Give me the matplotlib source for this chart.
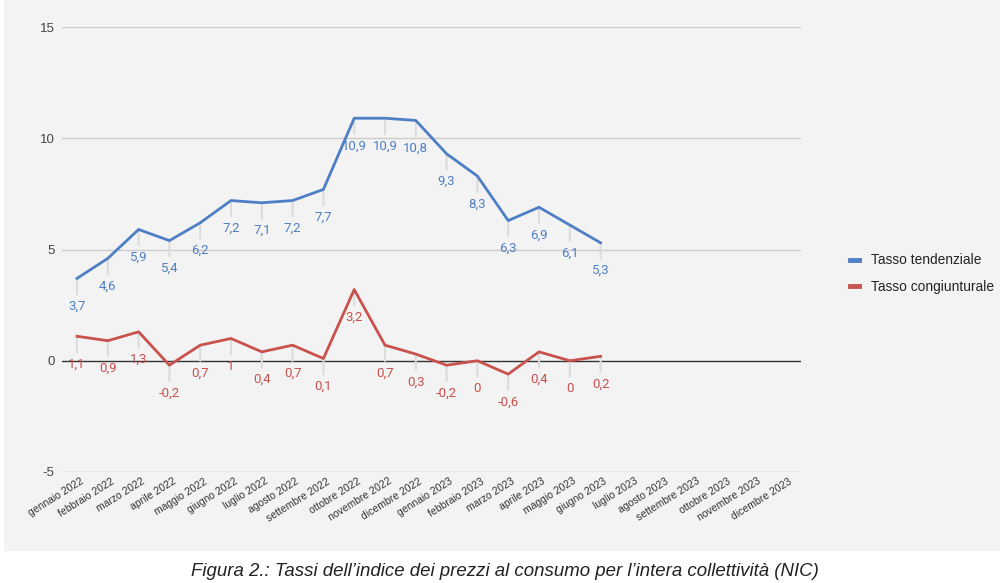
import matplotlib.pyplot as plt
from matplotlib.patches import Rectangle
from matplotlib.transforms import ScaledTranslation

plt.rcParams['axes.unicode_minus'] = False

# mesi sull'asse x
mesi = ['gennaio', 'febbraio', 'marzo', 'aprile', 'maggio', 'giugno',
        'luglio', 'agosto', 'settembre', 'ottobre', 'novembre', 'dicembre']
etichette = [m + ' 2022' for m in mesi] + [m + ' 2023' for m in mesi]

# valori (gen 2022 - giu 2023)
tendenziale = [3.7, 4.6, 5.9, 5.4, 6.2, 7.2, 7.1, 7.2, 7.7, 10.9, 10.9, 10.8,
               9.3, 8.3, 6.3, 6.9, 6.1, 5.3]
congiunturale = [1.1, 0.9, 1.3, -0.2, 0.7, 1, 0.4, 0.7, 0.1, 3.2, 0.7, 0.3,
                 -0.2, 0, -0.6, 0.4, 0, 0.2]

blu = '#4e7fc6'
rosso = '#c9514e'


def fmt(v):
    # numeri all'italiana: virgola come separatore decimale
    if v == int(v):
        return str(int(v))
    return ('%.1f' % v).replace('.', ',')


fig = plt.figure(figsize=(10, 5.83), dpi=100)
fig.patches.append(Rectangle((0.004, 1 - 550 / 583), 0.996, 550 / 583,
                             transform=fig.transFigure, color='#f3f3f3', zorder=0))

ax = fig.add_axes([0.0616, 1 - 472 / 583, 0.7392, 445 / 583])
ax.set_zorder(2)
ax.set_facecolor('none')
ax.set_xlim(-0.5, len(etichette) - 0.5)
ax.set_ylim(-5, 15)
for s in ax.spines.values():
    s.set_visible(False)

ax.set_yticks([-5, 0, 5, 10, 15])
ax.tick_params(axis='y', length=0, pad=5, labelsize=9.5, labelcolor='#444444')
for t in ax.get_yticklabels():
    t.set_family('Liberation Sans')
for yv in [-5, 5, 10, 15]:
    ax.axhline(yv, color='#cccccc', lw=1, zorder=1)
ax.axhline(0, color='#333333', lw=1, zorder=2)

x = list(range(len(etichette)))
ax.set_xticks(x)
ax.set_xticklabels(etichette, rotation=32, ha='right', rotation_mode='anchor',
                   fontsize=7.5, color='#333333', family='Liberation Sans')
ax.tick_params(axis='x', length=0, pad=3)
# le etichette finiscono un poco a destra della tacca
for t in ax.get_xticklabels():
    t.set_transform(t.get_transform() + ScaledTranslation(3 / 100, 0, fig.dpi_scale_trans))

ax.plot(x[:len(tendenziale)], tendenziale, color=blu, lw=2, zorder=4,
        label='Tasso tendenziale')
ax.plot(x[:len(congiunturale)], congiunturale, color=rosso, lw=2, zorder=4,
        label='Tasso congiunturale')

for serie, col in [(tendenziale, blu), (congiunturale, rosso)]:
    for i, v in enumerate(serie):
        ax.annotate(fmt(v), xy=(i, v), xytext=(0, -20), textcoords='offset points',
                    ha='center', va='center', fontsize=9.5, color=col,
                    family='Roboto', zorder=3,
                    arrowprops=dict(arrowstyle='-', color='#dcdcdc', lw=1.5,
                                    shrinkA=2, shrinkB=0, relpos=(0.5, 1)))

leg = fig.legend(loc='upper left', bbox_to_anchor=(0.838, 1 - 241 / 583),
                 frameon=False, handlelength=0.6, handletextpad=0.9,
                 labelspacing=0.9, prop={'family': 'Liberation Sans', 'size': 9.9})
for h in leg.get_lines():
    h.set_linewidth(3.5)
for t in leg.get_texts():
    t.set_color('#222222')

fig.text(0.505, 1 - 572 / 583,
         'Figura 2.: Tassi dell\u2019indice dei prezzi al consumo per l\u2019intera collettività (NIC)',
         ha='center', va='center', fontsize=13.4, style='italic', color='#222222',
         family=['Liberation Sans Narrow', 'Liberation Sans'])

fig.savefig('out.png', dpi=100)
